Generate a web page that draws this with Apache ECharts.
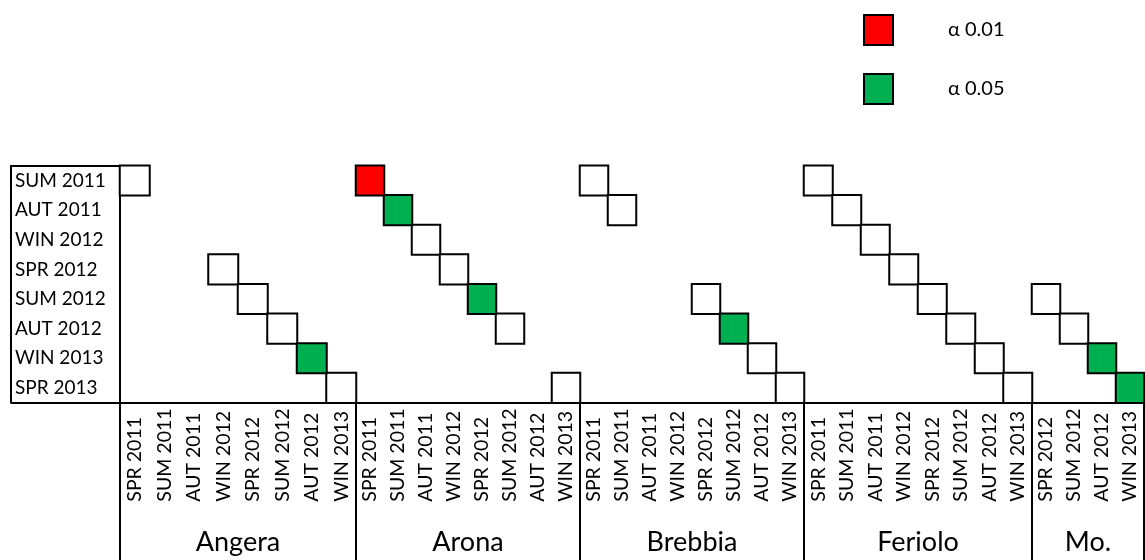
<!DOCTYPE html>
<html>
<head>
<meta charset="utf-8">
<script src="https://cdn.jsdelivr.net/npm/echarts@6/dist/echarts.min.js"></script>
<style>
html,body{margin:0;padding:0;background:#fff;}
#chart{width:1145px;height:560px;}
</style>
</head>
<body>
<div id="chart"></div>
<script>
// ---- data ----
const rowLabels = ['SUM 2011','AUT 2011','WIN 2012','SPR 2012','SUM 2012','AUT 2012','WIN 2013','SPR 2013'];
const fullCols = ['SPR 2011','SUM 2011','AUT 2011','WIN 2012','SPR 2012','SUM 2012','AUT 2012','WIN 2013'];
const moCols = ['SPR 2012','SUM 2012','AUT 2012','WIN 2013'];
const sites = ['Angera','Arona','Brebbia','Feriolo','Mo.'];
// level: 0 = not significant, 1 = α 0.05, 2 = α 0.01
const angera = [['SPR 2011','SUM 2011',0],['WIN 2012','SPR 2012',0],['SPR 2012','SUM 2012',0],['SUM 2012','AUT 2012',0],['AUT 2012','WIN 2013',1],['WIN 2013','SPR 2013',0]];
const arona = [['SPR 2011','SUM 2011',2],['SUM 2011','AUT 2011',1],['AUT 2011','WIN 2012',0],['WIN 2012','SPR 2012',0],['SPR 2012','SUM 2012',1],['SUM 2012','AUT 2012',0],['WIN 2013','SPR 2013',0]];
const brebbia = [['SPR 2011','SUM 2011',0],['SUM 2011','AUT 2011',0],['SPR 2012','SUM 2012',0],['SUM 2012','AUT 2012',1],['AUT 2012','WIN 2013',0],['WIN 2013','SPR 2013',0]];
const feriolo = [['SPR 2011','SUM 2011',0],['SUM 2011','AUT 2011',0],['AUT 2011','WIN 2012',0],['WIN 2012','SPR 2012',0],['SPR 2012','SUM 2012',0],['SUM 2012','AUT 2012',0],['AUT 2012','WIN 2013',0],['WIN 2013','SPR 2013',0]];
const mo = [['SPR 2012','SUM 2012',0],['SUM 2012','AUT 2012',0],['AUT 2012','WIN 2013',1],['WIN 2013','SPR 2013',1]];
const siteCells = [angera, arona, brebbia, feriolo, mo];
const siteCols = [fullCols, fullCols, fullCols, fullCols, moCols];
const levelNames = ['n.s.','α 0.05','α 0.01'];
const levelColors = ['#FFFFFF','#00B050','#FF0000'];

// ---- layout ----
const gridTop = 165.7, gridHeight = 237;
const gridLefts = [120, 356, 580, 804, 1032];
const gridWidths = [236, 224, 224, 228, 112];
const FONT = 'Lato, "Noto Sans", sans-serif';

const grids = [], xAxes = [], yAxes = [], series = [];
sites.forEach((site, g) => {
  grids.push({left: gridLefts[g], top: gridTop, width: gridWidths[g], height: gridHeight, containLabel: false});
  xAxes.push({
    type: 'category', gridIndex: g, data: siteCols[g], position: 'bottom',
    name: site, nameLocation: 'middle', nameGap: 126,
    nameTextStyle: {fontFamily: FONT, fontSize: 27, color: '#000'},
    axisLine: {show: true, lineStyle: {color: '#000', width: 2}},
    axisTick: {show: true, interval: (i) => i === 0, length: 158, lineStyle: {color: '#000', width: 2}},
    axisLabel: {show: true, interval: 0, rotate: 90, align: 'left', margin: 99,
      padding: [0, 0, 0, 0], fontFamily: FONT, fontSize: 19.5, color: '#000'},
    splitLine: {show: false}
  });
  yAxes.push({
    type: 'category', gridIndex: g, data: rowLabels, inverse: true,
    axisLine: {show: g === 0, lineStyle: {color: '#000', width: 2}},
    axisTick: {show: g === 0, interval: (i) => i === 0, length: 109, lineStyle: {color: '#000', width: 2}},
    axisLabel: {show: g === 0, interval: 0, align: 'left', margin: 105,
      fontFamily: FONT, fontSize: 19, color: '#000'},
    splitLine: {show: false}
  });
  [0, 1, 2].forEach(lvl => {
    const d = siteCells[g].filter(c => c[2] === lvl).map(c => [c[0], c[1], c[2]]);
    series.push({
      type: 'heatmap', name: levelNames[lvl], xAxisIndex: g, yAxisIndex: g,
      data: d,
      itemStyle: {color: levelColors[lvl], borderColor: '#000', borderWidth: 2},
      emphasis: {disabled: true},
      label: {show: false}
    });
  });
});
// left border of the row-label box
yAxes.push({
  type: 'category', gridIndex: 0, data: rowLabels, inverse: true, position: 'left', offset: 109,
  axisLine: {show: true, lineStyle: {color: '#000', width: 2}},
  axisTick: {show: false}, axisLabel: {show: false}, splitLine: {show: false}
});

const chart = echarts.init(document.getElementById('chart'));
chart.setOption({
  backgroundColor: '#fff',
  animation: false,
  grid: grids,
  xAxis: xAxes,
  yAxis: yAxes,
  legend: {
    data: ['α 0.01', 'α 0.05'],
    orient: 'vertical', left: 863, top: 14, padding: 0,
    itemWidth: 29, itemHeight: 30, itemGap: 27, icon: 'rect',
    selectedMode: false,
    itemStyle: {borderColor: '#000', borderWidth: 2},
    textStyle: {fontFamily: FONT, fontSize: 20, color: '#000', padding: [0, 0, 0, 50]}
  },
  series: series
});
</script>
</body>
</html>
